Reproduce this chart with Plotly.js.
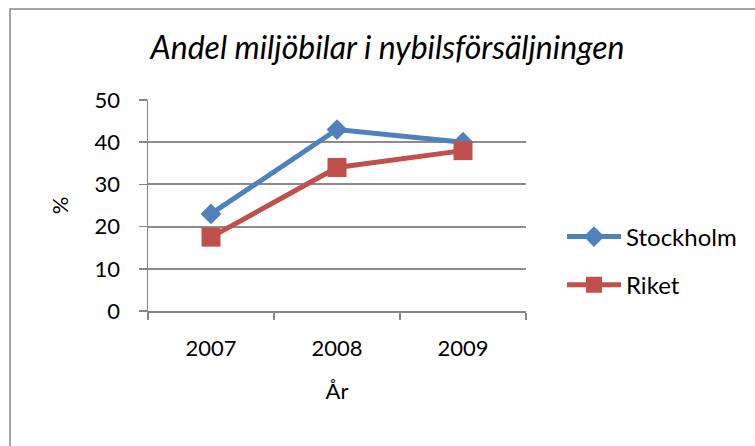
<!DOCTYPE html>
<html>
<head>
<meta charset="utf-8">
<script src="https://cdn.plot.ly/plotly-3.0.1.min.js"></script>
<style>
  html, body { margin: 0; padding: 0; background: #fff; }
  #chart { width: 755px; height: 446px; }
</style>
</head>
<body>
<div id="chart"></div>
<script>
const years = ['2007', '2008', '2009'];
const stockholm = [23, 43, 40];
const riket = [17.5, 34, 38];
const seriesNames = ['Stockholm', 'Riket'];
const chartTitle = 'Andel miljöbilar i nybilsförsäljningen';
const xTitle = 'År';
const yTitle = '%';

const FONT = 'Lato, "Noto Sans", sans-serif';

const traces = [
  {
    x: years, y: stockholm, name: seriesNames[0], type: 'scatter', mode: 'lines+markers',
    legendgroup: 'a',
    line: { color: '#4F81BD', width: 5 },
    marker: { symbol: 'diamond', size: 16, color: '#4F81BD' }
  },
  {
    x: years, y: riket, name: seriesNames[1], type: 'scatter', mode: 'lines+markers',
    legendgroup: 'b',
    line: { color: '#C0504D', width: 5 },
    marker: { symbol: 'square', size: 19, color: '#C0504D' }
  }
];

const layout = {
  width: 755, height: 446,
  margin: { l: 148, r: 229, t: 100, b: 135 },
  paper_bgcolor: '#fff', plot_bgcolor: '#fff',
  font: { family: FONT, color: '#000', size: 22 },
  title: {
    text: chartTitle,
    font: { family: FONT, size: 32, color: '#000', style: 'italic' },
    xref: 'container', yref: 'container',
    x: 387.5 / 755, xanchor: 'center',
    y: 1 - 48 / 446, yanchor: 'middle'
  },
  xaxis: {
    type: 'category',
    range: [-0.5, 2.5],
    tickson: 'boundaries',
    ticks: 'outside', ticklen: 7, tickwidth: 1.5, tickcolor: '#868686',
    showline: true, linecolor: '#868686', linewidth: 1.5,
    showgrid: false, zeroline: false,
    tickfont: { family: FONT, size: 22, color: '#000' },
    ticklabelstandoff: 17,
    title: { text: xTitle, font: { family: FONT, size: 22, color: '#000' }, standoff: 23 },
    fixedrange: true
  },
  yaxis: {
    range: [0, 50], dtick: 10, tick0: 0,
    ticks: 'outside', ticklen: 8, tickwidth: 1.5, tickcolor: '#868686',
    showline: true, linecolor: '#868686', linewidth: 1.5,
    showgrid: true, gridcolor: '#8c8c8c', gridwidth: 2,
    zeroline: false,
    tickfont: { family: FONT, size: 22, color: '#000' },
    ticklabelstandoff: 14,
    title: { text: yTitle, font: { family: FONT, size: 22, color: '#000' }, standoff: 20 },
    fixedrange: true
  },
  legend: {
    x: (562 - 148) / 378, xanchor: 'left',
    y: (311 - 261) / 211, yanchor: 'middle',
    font: { family: FONT, size: 24, color: '#000' },
    itemwidth: 54,
    tracegroupgap: 14,
    bgcolor: 'rgba(0,0,0,0)'
  },
  shapes: [
    {
      type: 'rect', xref: 'paper', yref: 'paper', layer: 'below',
      x0: (10 - 148) / 378, x1: (770 - 148) / 378,
      y0: (311 - 460) / 211, y1: (311 - 9) / 211,
      line: { color: '#868686', width: 1.5 }, fillcolor: 'rgba(0,0,0,0)'
    }
  ],
  showlegend: true
};

Plotly.newPlot('chart', traces, layout, { staticPlot: true, displayModeBar: false });
</script>
</body>
</html>
